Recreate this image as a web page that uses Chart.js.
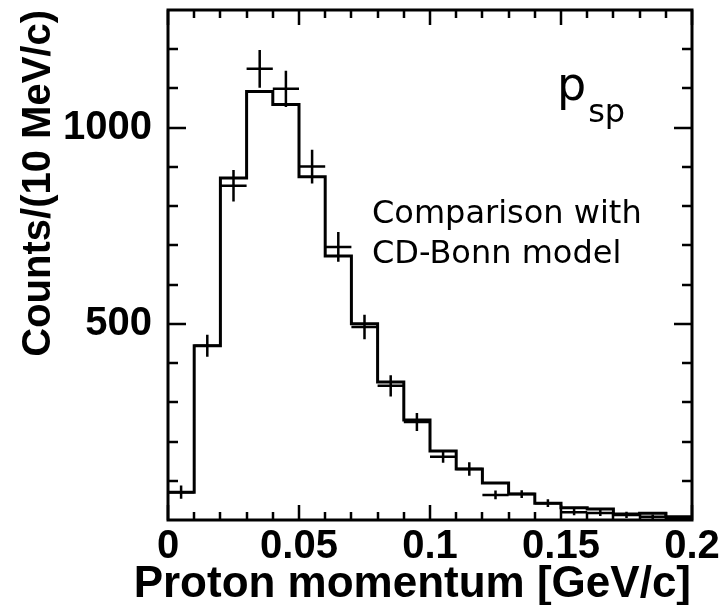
<!DOCTYPE html>
<html>
<head>
<meta charset="utf-8">
<script src="https://cdn.jsdelivr.net/npm/chart.js@4.4.1/dist/chart.umd.min.js"></script>
<style>
  html, body { margin: 0; padding: 0; background: #fff; }
  #wrap { width: 728px; height: 605px; }
</style>
</head>
<body>
<div id="wrap"><canvas id="psp"></canvas></div>
<script>
// lower edges of the 10 MeV/c momentum bins [GeV/c]
const binEdges = [0, 0.01, 0.02, 0.03, 0.04, 0.05, 0.06, 0.07, 0.08, 0.09,
                  0.1, 0.11, 0.12, 0.13, 0.14, 0.15, 0.16, 0.17, 0.18, 0.19];
const binWidth = 0.01;

// CD-Bonn model prediction (solid histogram)
const modelCounts = [71, 444, 872, 1092, 1059, 875, 673, 500, 352, 255,
                     176, 130, 94, 66, 43, 31, 28, 15, 17, 8];

// measured spectator-proton counts and their errors
const dataCounts = [71, 444, 852, 1150, 1099, 901, 696, 492, 342, 250,
                    161, 130, 64, 66, 43, 20, 18, 13, 8, 3];
const dataErrors = [17, 28, 40, 48, 46, 43, 38, 31, 27, 23,
                    15, 17, 11, 10, 10, 8, 8, 8, 6, 6];

const xTickLabels = [0, 0.05, 0.1, 0.15, 0.2];
const yTickLabels = [500, 1000];
const xMax = 0.2;
const yMax = 1300;

const xTitle = 'Proton momentum [GeV/c]';
const yTitle = 'Counts/(10 MeV/c)';
const tagMain = 'p';
const tagSub = 'sp';
const noteLines = ['Comparison with', 'CD-Bonn model'];

// step outline: a point at every lower bin edge, closed at the last upper edge
// ('before' keeps each value flat until the next edge, then steps)
const stepPoints = binEdges.map((x, i) => ({ x, y: modelCounts[i] }));
stepPoints.push({ x: binEdges[binEdges.length - 1] + binWidth, y: modelCounts[modelCounts.length - 1] });

// crosses: horizontal bin-width bar + vertical error bar, split by nulls
const crossPoints = [];
dataCounts.forEach((v, i) => {
  const lo = binEdges[i];
  const c = lo + binWidth / 2;
  crossPoints.push({ x: lo, y: v }, { x: lo + binWidth, y: v }, { x: c, y: null });
  crossPoints.push({ x: c, y: v - dataErrors[i] }, { x: c, y: v + dataErrors[i] }, { x: c, y: null });
});

const boldFont = { family: '"Liberation Sans", Arial, sans-serif', size: 40, weight: 'bold' };

// frame with inward ticks on all four sides, plus the text labels
const frameTicks = {
  id: 'frameTicks',
  afterDraw(chart) {
    const { ctx, chartArea: a, scales: { x, y } } = chart;
    ctx.save();
    ctx.strokeStyle = '#000';
    ctx.lineWidth = 2.5;
    ctx.beginPath();
    for (let i = 0; i <= 20; i++) {
      const px = Math.round(x.getPixelForValue(i * binWidth));
      const len = i % 5 === 0 ? 15 : 8;
      ctx.moveTo(px, a.bottom); ctx.lineTo(px, a.bottom - len);
      ctx.moveTo(px, a.top); ctx.lineTo(px, a.top + len);
    }
    for (let v = 100; v < yMax; v += 100) {
      const py = Math.round(y.getPixelForValue(v));
      const len = v % 500 === 0 ? 18 : 10;
      ctx.moveTo(a.left, py); ctx.lineTo(a.left + len, py);
      ctx.moveTo(a.right, py); ctx.lineTo(a.right - len, py);
    }
    ctx.stroke();
    ctx.lineWidth = 3;
    ctx.strokeRect(a.left, a.top, a.right - a.left, a.bottom - a.top);

    ctx.fillStyle = '#000';
    ctx.textBaseline = 'alphabetic';

    // x title runs wider than the plot, so it is drawn here (the scale title would be squeezed)
    ctx.textAlign = 'right';
    ctx.font = 'bold 44px "Liberation Sans", Arial, sans-serif';
    ctx.fillText(xTitle, a.right - 1, 597);

    ctx.textAlign = 'left';
    ctx.font = '46px "DejaVu Sans"';
    ctx.fillText(tagMain, 557, 100);
    const w = ctx.measureText(tagMain).width;
    ctx.font = '32px "DejaVu Sans"';
    ctx.fillText(tagSub, 557 + w + 2, 122);

    ctx.font = '32px "DejaVu Sans"';
    noteLines.forEach((t, i) => ctx.fillText(t, 372, 223 + i * 40));
    ctx.restore();
  }
};

new Chart(document.getElementById('psp'), {
  type: 'scatter',
  data: {
    datasets: [
      {
        label: 'CD-Bonn',
        data: stepPoints,
        showLine: true,
        stepped: 'before',
        borderColor: '#000',
        borderWidth: 3,
        borderJoinStyle: 'miter',
        pointRadius: 0
      },
      {
        label: 'data',
        data: crossPoints,
        showLine: true,
        spanGaps: false,
        borderColor: '#000',
        borderWidth: 2.5,
        pointRadius: 0
      }
    ]
  },
  options: {
    responsive: true,
    maintainAspectRatio: false,
    animation: false,
    events: [],
    layout: { padding: { top: 10, right: 36, left: 0, bottom: 0 } },
    plugins: { legend: { display: false }, tooltip: { enabled: false } },
    scales: {
      x: {
        type: 'linear',
        min: 0,
        max: xMax,
        grid: { display: false },
        border: { display: false },
        afterBuildTicks: s => { s.ticks = xTickLabels.map(v => ({ value: v })); },
        afterFit: s => { s.height = 85; s.paddingLeft = 0; s.paddingRight = 0; },
        ticks: {
          color: '#000',
          font: boldFont,
          padding: -5,
          maxRotation: 0,
          autoSkip: false,
          callback: v => String(v)
        },
        title: { display: false }
      },
      y: {
        type: 'linear',
        min: 0,
        max: yMax,
        grid: { display: false },
        border: { display: false },
        afterBuildTicks: s => { s.ticks = yTickLabels.map(v => ({ value: v })); },
        afterFit: s => { s.width = 168; s.paddingTop = 0; s.paddingBottom = 0; },
        ticks: {
          color: '#000',
          font: boldFont,
          padding: 8,
          autoSkip: false,
          callback: v => String(v)
        },
        title: {
          display: true,
          text: yTitle,
          align: 'end',
          color: '#000',
          font: boldFont,
          padding: { top: 15, bottom: 0 }
        }
      }
    }
  },
  plugins: [frameTicks]
});
</script>
</body>
</html>
